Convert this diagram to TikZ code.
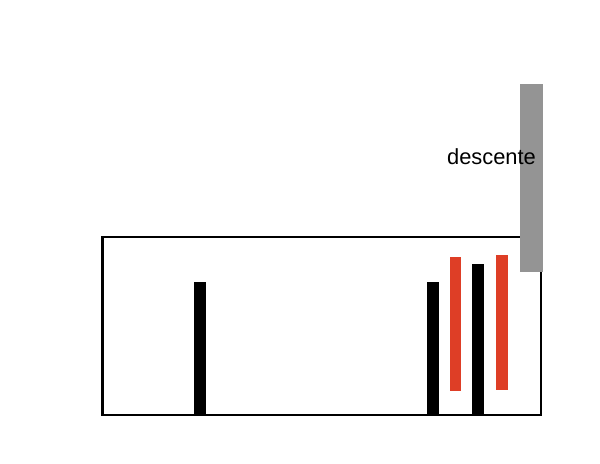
\documentclass[tikz,border=0pt]{standalone}
\usepackage{fontspec}
\setmainfont{Liberation Sans}
\definecolor{barred}{RGB}{222,62,38}
\definecolor{slidegray}{RGB}{148,148,148}
\tikzset{
  blackbar/.style={fill=black, draw=none},
  redbar/.style={fill=barred, draw=none},
  slide/.style={fill=slidegray, draw=none},
  frame/.style={draw=black, line width=1.7pt},
  lbl/.style={font=\fontsize{16.4}{19}\selectfont, inner sep=0pt},
}
\begin{document}
\begin{tikzpicture}[x=0.75pt, y=-0.75pt]
  \useasboundingbox (0,0) rectangle (600,464);
  % bars standing on the floor of the box
  \foreach \xa/\xb/\t in {194/206/282, 427/439/282, 472/484/264}
    \fill[blackbar] (\xa,\t) rectangle (\xb,415);
  \foreach \xa/\xb/\t/\b in {449.5/461/257/391, 496/508/255/390}
    \fill[redbar] (\xa,\t) rectangle (\xb,\b);
  \draw[frame] (102.5,237) rectangle (541,415);
  % the descending slide
  \fill[slide] (520,84) rectangle (543,272);
  \node[lbl] (descente) at (491.5,157) {descente};
\end{tikzpicture}
\end{document}
